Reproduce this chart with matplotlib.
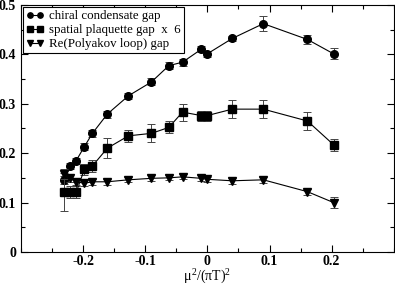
import matplotlib
matplotlib.use("Agg")
from matplotlib import pyplot as plt
from matplotlib.ticker import FixedLocator, MultipleLocator

matplotlib.rc('font', family=['Liberation Serif', 'DejaVu Serif'])
matplotlib.rc('mathtext', fontset='custom', rm='Liberation Serif', it='Liberation Serif')

# x = mu^2 / (pi T)^2
mu2 = [-0.231, -0.221, -0.211, -0.198, -0.185, -0.161, -0.127, -0.090,
       -0.062, -0.040, -0.010, 0.0, 0.040, 0.090, 0.161, 0.203]

chiral = [0.146, 0.174, 0.185, 0.213, 0.240, 0.279, 0.316, 0.344,
          0.377, 0.384, 0.410, 0.401, 0.432, 0.462, 0.430, 0.401]
chiral_err = [0.008, 0.007, 0.006, 0.007, 0.007, 0.007, 0.006, 0.007,
              0.007, 0.007, 0.006, 0.006, 0.006, 0.015, 0.009, 0.011]

plaq = [0.121, 0.121, 0.121, 0.167, 0.174, 0.210, 0.235, 0.240,
        0.252, 0.283, 0.276, 0.276, 0.289, 0.289, 0.265, 0.217]
plaq_err = [0.039, 0.012, 0.012, 0.012, 0.012, 0.020, 0.012, 0.018,
            0.012, 0.017, 0.010, 0.010, 0.018, 0.018, 0.018, 0.012]

polyakov = [0.157, 0.149, 0.142, 0.139, 0.142, 0.142, 0.146, 0.149,
            0.150, 0.152, 0.149, 0.147, 0.144, 0.146, 0.122, 0.100]
poly_err = [0.010, 0.008, 0.007, 0.006, 0.006, 0.006, 0.005, 0.006,
            0.005, 0.005, 0.006, 0.005, 0.006, 0.006, 0.006, 0.011]

x_ticks = [-0.2, -0.1, 0.0, 0.1, 0.2]
x_labels = ['-0.2', '-0.1', '0', '0.1', '0.2']
y_ticks = [0.0, 0.1, 0.2, 0.3, 0.4, 0.5]
y_labels = ['0', '0.1', '0.2', '0.3', '0.4', '0.5']

fig = plt.figure(figsize=(3.95, 2.86), dpi=100)
ax = fig.add_axes([0.053, 0.119, 0.944, 0.864])

series = [(chiral, chiral_err, 'o', 'chiral condensate gap'),
          (plaq, plaq_err, 's', 'spatial plaquette gap  x  6'),
          (polyakov, poly_err, 'v', 'Re(Polyakov loop) gap')]
for vals, errs, mk, lab in series:
    ax.errorbar(mu2, vals, yerr=errs, fmt='none', ecolor='#444444',
                elinewidth=0.7, capsize=3, capthick=0.7)
    ax.plot(mu2, vals, color='black', lw=0.8, marker=mk, ms=5.5, label=lab)

ax.set_xlim(-0.3, 0.3)
ax.set_ylim(0, 0.5)
ax.xaxis.set_major_locator(FixedLocator(x_ticks))
ax.xaxis.set_minor_locator(MultipleLocator(0.05))
ax.yaxis.set_major_locator(FixedLocator(y_ticks))
ax.yaxis.set_minor_locator(MultipleLocator(0.05))
ax.set_xticklabels(x_labels)
ax.set_yticklabels(y_labels)
ax.tick_params(which='both', direction='in', top=True, right=True, labelsize=10, width=0.8)
ax.tick_params(axis='x', pad=2)
ax.tick_params(which='major', length=5)
ax.tick_params(which='minor', length=3)
for lab in ax.get_xticklabels() + ax.get_yticklabels():
    lab.set_fontweight('bold')
for s in ax.spines.values():
    s.set_linewidth(0.8)

ax.set_xlabel(r'$\mu^2/(\pi\mathrm{T})^2$', fontsize=10, labelpad=0)

leg = ax.legend(loc='upper left', fontsize=9.3, numpoints=2, frameon=True, fancybox=False,
                edgecolor='black', borderaxespad=0.15, handlelength=1.4, handletextpad=0.4,
                labelspacing=0.15, borderpad=0.25, framealpha=1, markerscale=0.7)
leg.get_frame().set_linewidth(0.8)

fig.savefig('out.png', dpi=100)
